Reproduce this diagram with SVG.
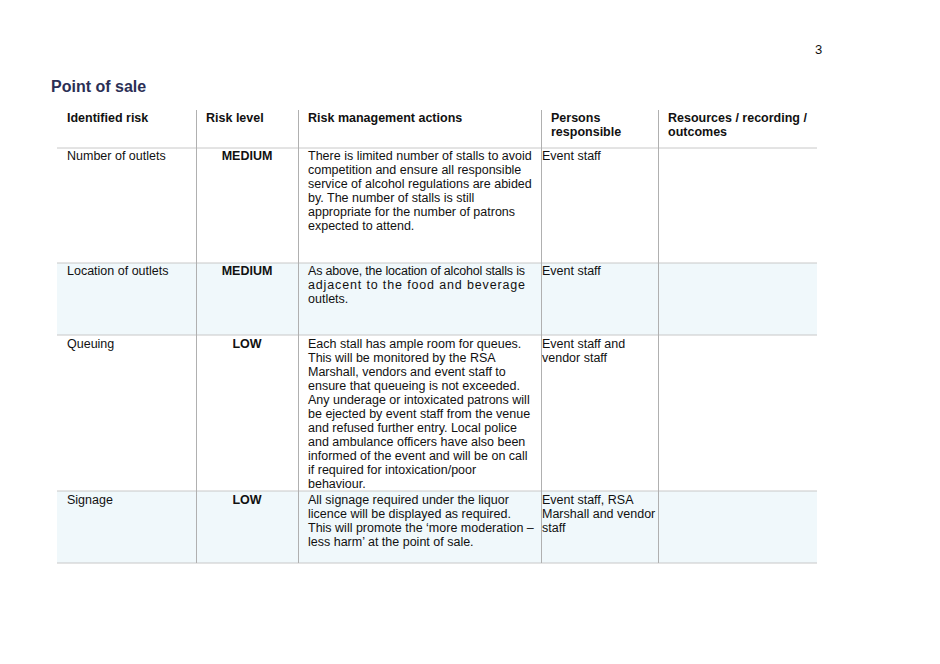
<svg xmlns="http://www.w3.org/2000/svg" width="940" height="664" viewBox="0 0 940 664">
<style>
text{font-family:"Liberation Sans",Arial,sans-serif;font-size:12.5px;fill:#111}
.h{font-weight:bold}
.t{font-size:16px;font-weight:bold;fill:#2b2f55}
.g{stroke:#c8c8c8;stroke-width:1;fill:none}
.v{stroke:#b0b0b0;stroke-width:1}
.sh{fill:#f0f8fb}
</style>
<rect width="940" height="664" fill="#fff"/>
<text x="815" y="54" style="font-size:13px">3</text>
<text class="t" x="51" y="92">Point of sale</text>
<g id="table">
<rect class="sh" x="57" y="263" width="760" height="72"/>
<rect class="sh" x="57" y="491" width="760" height="72"/>
<g class="g">
<line x1="57" y1="148" x2="817" y2="148"/>
<line x1="57" y1="263" x2="817" y2="263"/>
<line x1="57" y1="335" x2="817" y2="335"/>
<line x1="57" y1="491" x2="817" y2="491"/>
<line x1="57" y1="563" x2="817" y2="563"/>
</g>
<g class="v">
<line x1="196.5" y1="110" x2="196.5" y2="563"/>
<line x1="298.5" y1="110" x2="298.5" y2="563"/>
<line x1="541.5" y1="110" x2="541.5" y2="563"/>
<line x1="658.5" y1="110" x2="658.5" y2="563"/>
</g>
</g>
<g id="header" class="h">
<text class="h" x="67" y="122">Identified risk</text>
<text class="h" x="206" y="122">Risk level</text>
<text class="h" x="308" y="122">Risk management actions</text>
<text class="h" x="551" y="122">Persons</text>
<text class="h" x="551" y="136">responsible</text>
<text class="h" x="668" y="122">Resources / recording /</text>
<text class="h" x="668" y="136">outcomes</text>
</g>
<g id="row1">
<text x="67" y="160">Number of outlets</text>
<text class="h" x="247" y="160" text-anchor="middle">MEDIUM</text>
<text x="308" y="160">There is limited number of stalls to avoid</text>
<text x="308" y="174">competition and ensure all responsible</text>
<text x="308" y="188">service of alcohol regulations are abided</text>
<text x="308" y="202">by. The number of stalls is still</text>
<text x="308" y="216">appropriate for the number of patrons</text>
<text x="308" y="230">expected to attend.</text>
<text x="542" y="160">Event staff</text>
</g>
<g id="row2">
<text x="67" y="275">Location of outlets</text>
<text class="h" x="247" y="275" text-anchor="middle">MEDIUM</text>
<text x="308" y="275" textLength="217">As above, the location of alcohol stalls is</text>
<text x="308" y="289" textLength="217">adjacent to the food and beverage</text>
<text x="308" y="303">outlets.</text>
<text x="542" y="275">Event staff</text>
</g>
<g id="row3">
<text x="67" y="348">Queuing</text>
<text class="h" x="247" y="348" text-anchor="middle">LOW</text>
<text x="308" y="348">Each stall has ample room for queues.</text>
<text x="308" y="362">This will be monitored by the RSA</text>
<text x="308" y="376">Marshall, vendors and event staff to</text>
<text x="308" y="390">ensure that queueing is not exceeded.</text>
<text x="308" y="404">Any underage or intoxicated patrons will</text>
<text x="308" y="418">be ejected by event staff from the venue</text>
<text x="308" y="432">and refused further entry. Local police</text>
<text x="308" y="446">and ambulance officers have also been</text>
<text x="308" y="460">informed of the event and will be on call</text>
<text x="308" y="474">if required for intoxication/poor</text>
<text x="308" y="488">behaviour.</text>
<text x="542" y="348">Event staff and</text>
<text x="542" y="362">vendor staff</text>
</g>
<g id="row4">
<text x="67" y="504">Signage</text>
<text class="h" x="247" y="504" text-anchor="middle">LOW</text>
<text x="308" y="504">All signage required under the liquor</text>
<text x="308" y="518">licence will be displayed as required.</text>
<text x="308" y="532">This will promote the ‘more moderation –</text>
<text x="308" y="546">less harm’ at the point of sale.</text>
<text x="542" y="504">Event staff, RSA</text>
<text x="542" y="518">Marshall and vendor</text>
<text x="542" y="532">staff</text>
</g>
</svg>
